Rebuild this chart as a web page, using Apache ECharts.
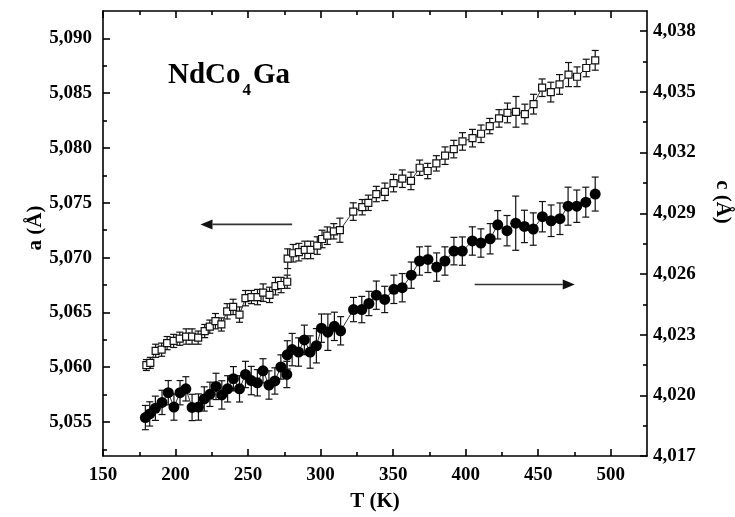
<!DOCTYPE html>
<html>
<head>
<meta charset="utf-8">
<script src="https://cdn.jsdelivr.net/npm/echarts@6/dist/echarts.min.js"></script>
<style>
html,body{margin:0;padding:0;background:#fff;}
#c{width:735px;height:517px;}
</style>
</head>
<body>
<div id="c"></div>
<script>
// ---- data ----
const T_a = [179.9,182.6,186.3,190.4,194.2,198.7,202.9,207.3,211.4,215.6,
  220.1,223.6,227.5,231.6,235.6,239.7,244.1,248.2,252.3,256.5,
  260.4,264.8,268.9,272.8,277.0,277.3,281.1,285.0,289.1,293.1,
  297.7,301.0,304.6,309.1,313.3,322.5,328.7,332.9,338.4,344.3,
  350.3,356.3,362.3,368.3,373.8,379.8,385.8,391.8,397.8,404.7,
  410.6,416.6,423.0,428.8,434.7,440.8,446.8,452.7,458.7,464.7,
  470.9,476.8,483.1,489.3];
const a_vals = [5.0602,5.0604,5.0615,5.0616,5.0622,5.0624,5.0626,5.0628,5.0628,5.0627,
  5.0633,5.0637,5.0642,5.0639,5.0651,5.0655,5.0648,5.0663,5.0664,5.0664,
  5.0668,5.0666,5.0674,5.0675,5.0678,5.0699,5.0704,5.0705,5.0707,5.0707,
  5.0711,5.0717,5.0720,5.0724,5.0725,5.0742,5.0746,5.0750,5.0758,5.0760,
  5.0768,5.0772,5.0770,5.0782,5.0779,5.0786,5.0793,5.0799,5.0806,5.0809,
  5.0813,5.0820,5.0827,5.0832,5.0833,5.0831,5.0840,5.0855,5.0851,5.0858,
  5.0867,5.0865,5.0873,5.0880];
const a_err = [0.0005,0.0005,0.0006,0.0006,0.0006,0.0006,0.0006,0.0007,0.0007,0.0006,
  0.0006,0.0006,0.0007,0.0006,0.0007,0.0007,0.0007,0.0007,0.0006,0.0007,
  0.0008,0.0007,0.0008,0.0007,0.0006,0.0009,0.0008,0.0008,0.0008,0.0008,
  0.0008,0.0008,0.0008,0.0007,0.0011,0.0008,0.0007,0.0007,0.0007,0.0008,
  0.0008,0.0008,0.0008,0.0007,0.0007,0.0007,0.0008,0.0008,0.0008,0.0008,
  0.0008,0.0007,0.0008,0.0009,0.0014,0.0009,0.0009,0.0008,0.0009,0.0009,
  0.0011,0.0009,0.0008,0.0009];

const T_c = [179.2,182.2,186.1,190.7,195.0,198.9,203.1,207.1,211.4,215.8,
  219.8,223.7,227.9,231.9,235.9,239.9,244.1,248.2,252.2,256.4,
  260.3,264.4,268.5,272.6,276.7,277.0,280.4,284.8,288.8,292.8,
  297.1,300.6,305.0,309.5,313.8,322.7,328.4,333.3,338.4,344.2,
  350.5,356.3,362.5,368.2,374.0,380.0,385.7,391.9,397.7,404.6,
  410.5,416.9,422.1,428.5,434.5,440.5,446.6,452.9,458.9,465.0,
  470.6,476.6,482.8,489.3];
const c_vals = [4.0189,4.01908,4.01936,4.01965,4.02013,4.01942,4.02013,4.02032,4.0194,4.01942,
  4.01982,4.02005,4.02044,4.02002,4.02032,4.02082,4.02032,4.02103,4.02073,4.02062,
  4.02121,4.02051,4.02071,4.0214,4.02103,4.022,4.02226,4.02214,4.02274,4.02214,
  4.02245,4.02332,4.02312,4.02341,4.02319,4.02424,4.02424,4.02454,4.02495,4.02474,
  4.02524,4.02532,4.02594,4.02664,4.02672,4.02634,4.02664,4.02713,4.02713,4.02763,
  4.02753,4.02774,4.02843,4.02814,4.02851,4.02835,4.02822,4.02883,4.02863,4.02873,
  4.02935,4.02935,4.02955,4.02995];
const c_err = [0.0006,0.0006,0.0006,0.0006,0.0006,0.00065,0.0006,0.0006,0.00065,0.00065,
  0.0006,0.0006,0.00065,0.0007,0.00065,0.0006,0.00065,0.00065,0.0007,0.00065,
  0.0006,0.0007,0.00065,0.0006,0.00065,0.0007,0.0008,0.0007,0.00073,0.0008,
  0.00085,0.0007,0.0009,0.0007,0.0007,0.0006,0.00065,0.0006,0.0007,0.00065,
  0.0007,0.0007,0.00065,0.0007,0.00065,0.0007,0.0007,0.00068,0.0007,0.0007,
  0.0007,0.00075,0.0007,0.00075,0.00134,0.0008,0.0008,0.00075,0.00078,0.00078,
  0.00094,0.0008,0.00074,0.00084];

const xMajor = [150,200,250,300,350,400,450,500];
const xMinor = [175,225,275,325,375,425,475];
const aMajor = [5.055,5.060,5.065,5.070,5.075,5.080,5.085,5.090];
const aMinor = [5.0525,5.0575,5.0625,5.0675,5.0725,5.0775,5.0825,5.0875];
const cMajor = [4.017,4.020,4.023,4.026,4.029,4.032,4.035,4.038];
const cMinor = [4.0185,4.0215,4.0245,4.0275,4.0305,4.0335,4.0365];

// ---- chart ----
const FONT = 'Liberation Serif';
const chart = echarts.init(document.getElementById('c'), null, {renderer:'canvas'});
const fmt = v => Number(v).toFixed(3).replace('.', ',');
const labelStyle = {fontFamily:FONT, fontWeight:'bold', fontSize:19, color:'#000'};
const lineStyle = {color:'#000', width:1.6};

function errBar(params, api){
  const x = api.value(0), lo = api.value(1), hi = api.value(2);
  const p1 = api.coord([x, lo]), p2 = api.coord([x, hi]);
  const w = 3.5;
  const st = {stroke:'#111', lineWidth:1.2};
  return {type:'group', children:[
    {type:'line', shape:{x1:p1[0],y1:p1[1],x2:p2[0],y2:p2[1]}, style:st},
    {type:'line', shape:{x1:p1[0]-w,y1:p1[1],x2:p1[0]+w,y2:p1[1]}, style:st},
    {type:'line', shape:{x1:p2[0]-w,y1:p2[1],x2:p2[0]+w,y2:p2[1]}, style:st}
  ]};
}

const xBase = {type:'value', min:150, max:525, splitLine:{show:false}, gridIndex:0};
const option = {
  animation:false,
  backgroundColor:'#fff',
  grid:{left:103, right:88, top:11, bottom:50, containLabel:false},
  xAxis:[
    Object.assign({}, xBase, {position:'bottom', axisLine:{show:true, lineStyle},
      axisTick:{show:true, inside:true, length:7, lineStyle, customValues:xMajor},
      axisLabel:Object.assign({show:true, margin:10, customValues:xMajor}, labelStyle),
      name:'T (K)', nameLocation:'middle', nameGap:35,
      nameTextStyle:{fontFamily:FONT, fontWeight:'bold', fontSize:21, color:'#000'}}),
    Object.assign({}, xBase, {position:'bottom', axisLine:{show:false},
      axisTick:{show:true, inside:true, length:4, lineStyle, customValues:xMinor},
      axisLabel:{show:false}}),
    Object.assign({}, xBase, {position:'top', axisLine:{show:true, lineStyle},
      axisTick:{show:true, inside:true, length:7, lineStyle, customValues:xMajor},
      axisLabel:{show:false}}),
    Object.assign({}, xBase, {position:'top', axisLine:{show:false},
      axisTick:{show:true, inside:true, length:4, lineStyle, customValues:xMinor},
      axisLabel:{show:false}})
  ],
  yAxis:[
    {type:'value', min:5.0519, max:5.0925, position:'left', splitLine:{show:false},
      axisLine:{show:true, lineStyle},
      axisTick:{show:true, inside:true, length:7, lineStyle, customValues:aMajor},
      axisLabel:Object.assign({show:true, margin:11, customValues:aMajor, formatter:fmt}, labelStyle)},
    {type:'value', min:5.0519, max:5.0925, position:'left', splitLine:{show:false},
      axisLine:{show:false},
      axisTick:{show:true, inside:true, length:4, lineStyle, customValues:aMinor},
      axisLabel:{show:false}},
    {type:'value', min:4.017, max:4.039, interval:0.003, position:'right', splitLine:{show:false},
      axisLine:{show:true, lineStyle},
      axisTick:{show:true, inside:true, length:7, lineStyle, customValues:cMajor},
      axisLabel:Object.assign({show:true, margin:6, customValues:cMajor, formatter:fmt}, labelStyle)},
    {type:'value', min:4.017, max:4.039, position:'right', splitLine:{show:false},
      axisLine:{show:false},
      axisTick:{show:true, inside:true, length:4, lineStyle, customValues:cMinor},
      axisLabel:{show:false}}
  ],
  series:[
    {type:'custom', name:'a err', xAxisIndex:0, yAxisIndex:0, z:2, renderItem:errBar,
      data:T_a.map((t,i)=>[t, a_vals[i]-a_err[i], a_vals[i]+a_err[i]]), encode:{x:0, y:[1,2]}},
    {type:'custom', name:'c err', xAxisIndex:0, yAxisIndex:2, z:2, renderItem:errBar,
      data:T_c.map((t,i)=>[t, c_vals[i]-c_err[i], c_vals[i]+c_err[i]]), encode:{x:0, y:[1,2]}},
    {type:'line', name:'a', xAxisIndex:0, yAxisIndex:0, z:3,
      data:T_a.map((t,i)=>[t, a_vals[i]]),
      symbol:'rect', symbolSize:7, showAllSymbol:true,
      lineStyle:{color:'#333', width:1},
      itemStyle:{color:'#fff', borderColor:'#111', borderWidth:1.2}},
    {type:'line', name:'c', xAxisIndex:0, yAxisIndex:2, z:3,
      data:T_c.map((t,i)=>[t, c_vals[i]]),
      symbol:'circle', symbolSize:11, showAllSymbol:true,
      lineStyle:{color:'#333', width:1},
      itemStyle:{color:'#000', borderColor:'#000', borderWidth:0}}
  ]
};
chart.setOption(option);

// annotations: arrows placed in data space, title and axis titles
function px(idx, pt){ return chart.convertToPixel({xAxisIndex:0, yAxisIndex:idx}, pt); }
function arrow(p0, p1){
  const dir = Math.sign(p1[0]-p0[0]);
  const L = 12, H = 5;
  return [
    {type:'line', shape:{x1:p0[0], y1:p0[1], x2:p1[0]-dir*L, y2:p1[1]}, style:{stroke:'#333', lineWidth:1.6}},
    {type:'polygon', shape:{points:[[p1[0],p1[1]],[p1[0]-dir*L,p1[1]-H],[p1[0]-dir*L,p1[1]+H]]}, style:{fill:'#111'}}
  ];
}
const la0 = px(0,[280.4, 5.07303]), la1 = px(0,[217.2, 5.07303]);
const ra0 = px(2,[406.2, 4.02548]), ra1 = px(2,[475.2, 4.02548]);
chart.setOption({graphic:[].concat(arrow(la0, la1), arrow(ra0, ra1), [
  {type:'text', x:168, y:61, style:{
    text:'{m|NdCo}{s|4}{m|Ga}',
    rich:{
      m:{fontFamily:FONT, fontWeight:'bold', fontSize:29, fill:'#000', verticalAlign:'bottom', padding:[0,1,9,0]},
      s:{fontFamily:FONT, fontWeight:'bold', fontSize:17, fill:'#000', verticalAlign:'bottom', padding:[0,2,0,1]}
    }}},
  {type:'text', x:36, y:228, rotation:Math.PI/2, style:{text:'a (Å)', fontFamily:FONT, fontWeight:'bold', fontSize:21, fill:'#000', align:'center', verticalAlign:'middle'}},
  {type:'text', x:722, y:202, rotation:-Math.PI/2, style:{text:'c (Å)', fontFamily:FONT, fontWeight:'bold', fontSize:21, fill:'#000', align:'center', verticalAlign:'middle'}}
])});
</script>
</body>
</html>
